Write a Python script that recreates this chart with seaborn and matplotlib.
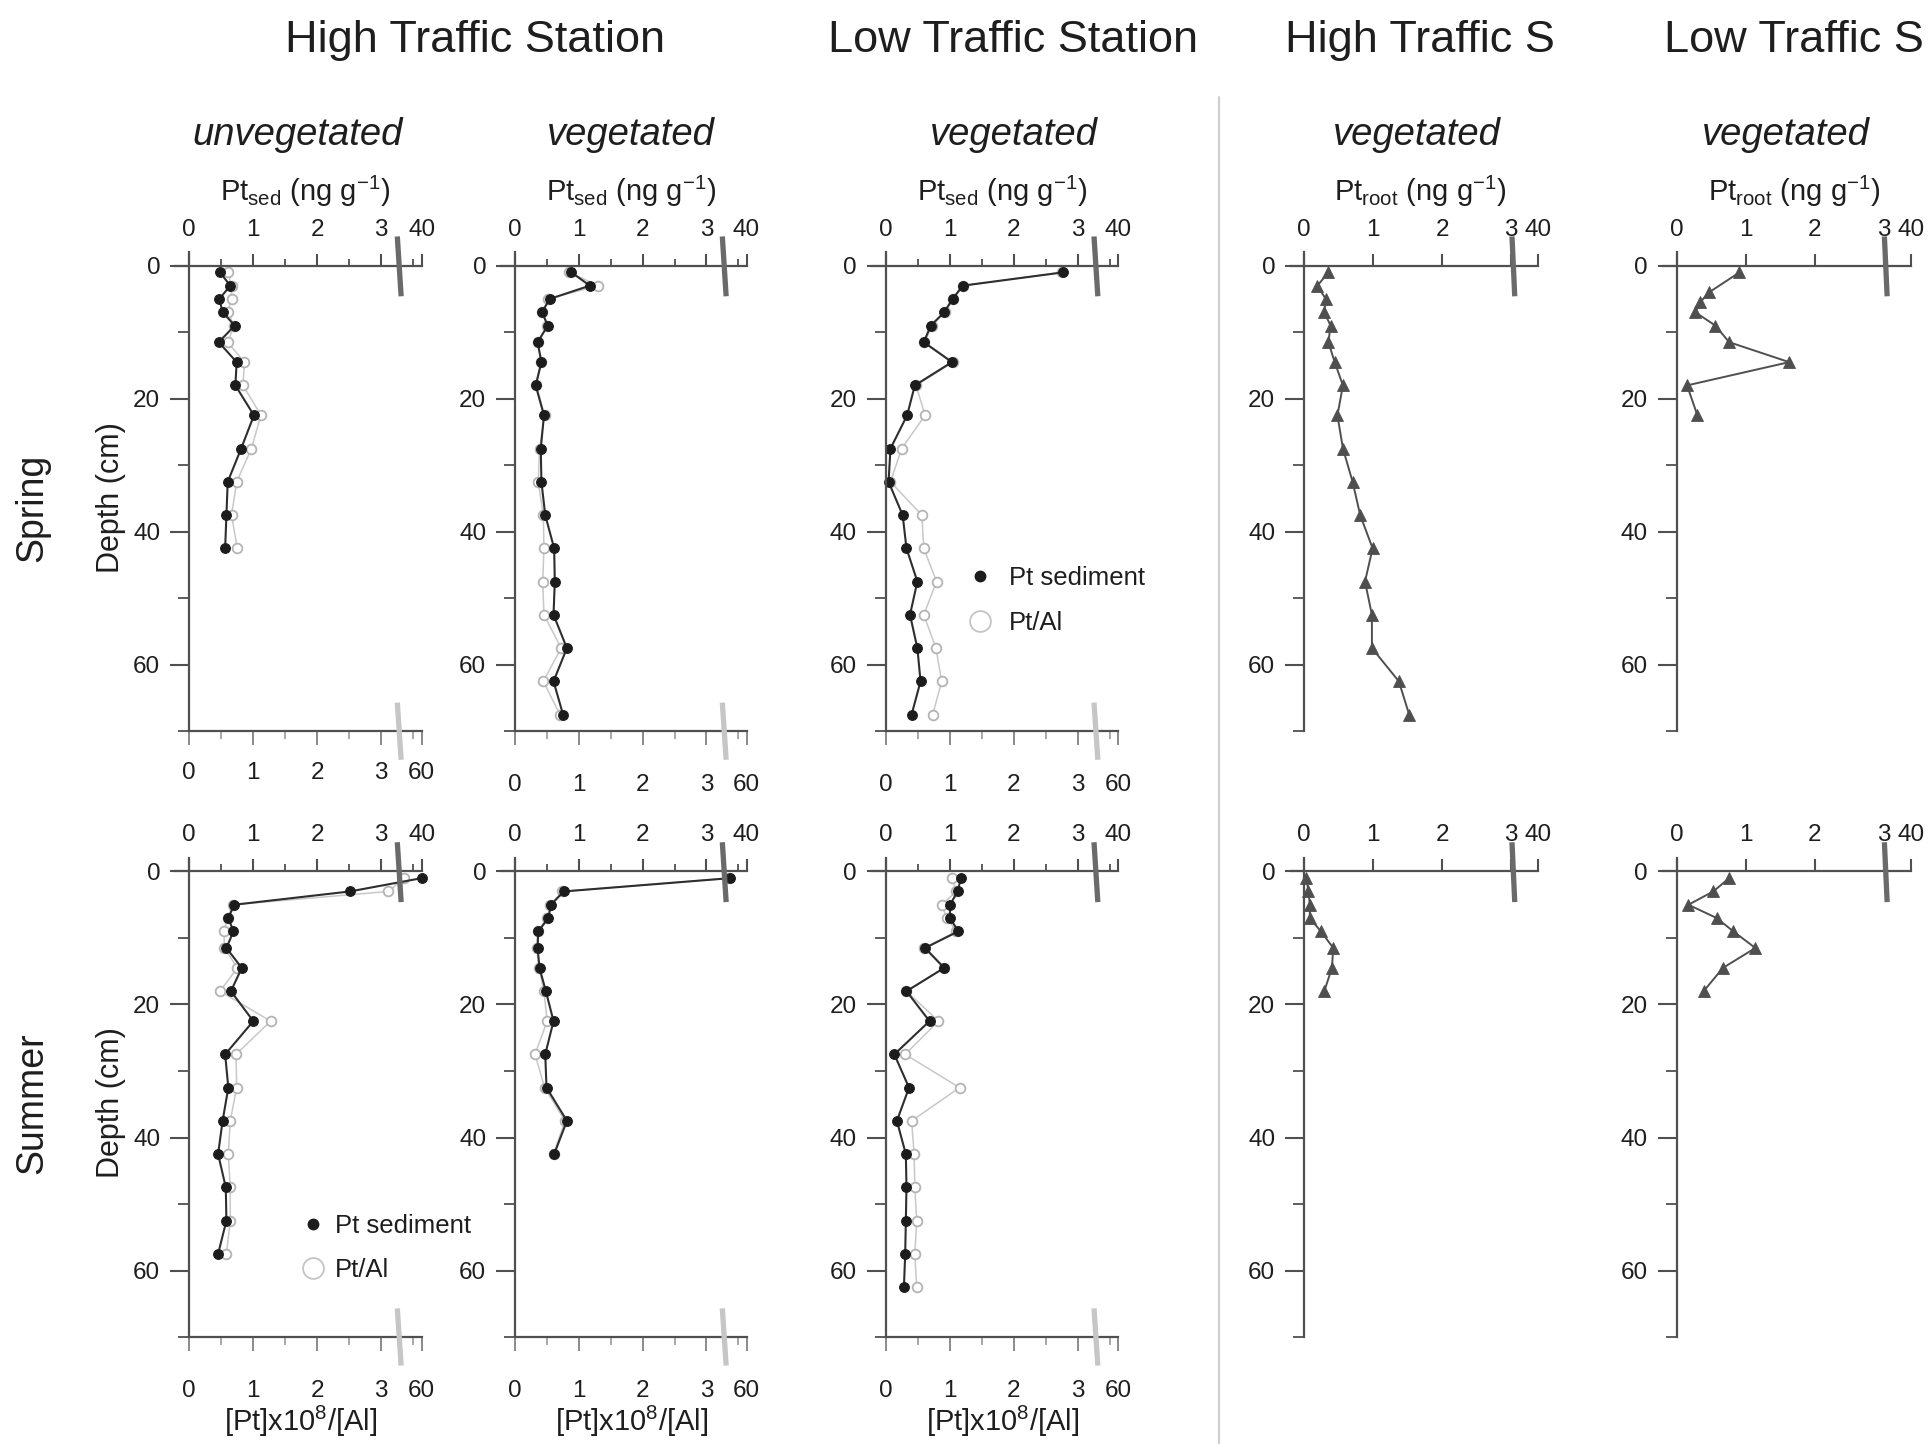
import matplotlib
matplotlib.use("Agg")
import matplotlib.pyplot as plt
import numpy as np
import seaborn as sns
from matplotlib.lines import Line2D

# ---------------- data ----------------
# sampling depths (cm) of the cores
depth_core = [1, 3, 5, 7, 9, 11.5, 14.5, 18, 22.5, 27.5, 32.5, 37.5, 42.5,
              47.5, 52.5, 57.5, 62.5, 67.5]

# Spring - High traffic, unvegetated sediment
spr_ht_unveg_depth = depth_core[:13]
spr_ht_unveg_pt = [0.48, 0.64, 0.47, 0.52, 0.71, 0.46, 0.74, 0.72, 1.01, 0.81, 0.60, 0.58, 0.56]
spr_ht_unveg_ptal = [0.60, 0.66, 0.66, 0.60, 0.70, 0.60, 0.86, 0.84, 1.12, 0.97, 0.74, 0.66, 0.75]

# Spring - High traffic, vegetated sediment
spr_ht_veg_depth = depth_core
spr_ht_veg_pt = [0.88, 1.17, 0.54, 0.42, 0.51, 0.35, 0.41, 0.32, 0.45, 0.40, 0.41, 0.47,
                 0.61, 0.62, 0.60, 0.81, 0.60, 0.75]
spr_ht_veg_ptal = [0.85, 1.30, 0.52, 0.42, 0.50, 0.36, 0.40, 0.33, 0.46, 0.38, 0.36, 0.44,
                   0.45, 0.43, 0.45, 0.72, 0.44, 0.70]

# Spring - Low traffic, vegetated sediment
spr_lt_veg_depth = depth_core
spr_lt_veg_pt = [2.77, 1.20, 1.04, 0.91, 0.70, 0.59, 1.03, 0.45, 0.33, 0.07, 0.04, 0.26,
                 0.32, 0.49, 0.375, 0.49, 0.54, 0.40]
spr_lt_veg_ptal = [2.75, 1.21, 1.05, 0.92, 0.72, 0.60, 1.05, 0.47, 0.61, 0.245, 0.07, 0.56,
                   0.59, 0.79, 0.59, 0.78, 0.87, 0.73]

# Spring - roots
spr_ht_root_depth = depth_core
spr_ht_root_pt = [0.35, 0.19, 0.31, 0.29, 0.38, 0.35, 0.44, 0.56, 0.48, 0.56, 0.70, 0.81,
                  0.99, 0.88, 0.98, 0.98, 1.37, 1.52]
spr_lt_root_depth = [1, 4, 5.5, 7, 9, 11.5, 14.5, 18, 22.5]
spr_lt_root_pt = [0.91, 0.47, 0.34, 0.27, 0.56, 0.76, 1.63, 0.15, 0.30]

# Summer - High traffic, unvegetated sediment
sum_ht_unveg_depth = depth_core[:16]
sum_ht_unveg_pt = [40.0, 2.51, 0.70, 0.61, 0.69, 0.58, 0.82, 0.65, 1.00, 0.56, 0.61, 0.52,
                   0.45, 0.57, 0.58, 0.45]
sum_ht_unveg_ptal = [40.0, 3.11, 0.68, 0.60, 0.54, 0.55, 0.75, 0.48, 1.27, 0.73, 0.74, 0.64,
                     0.61, 0.64, 0.64, 0.58]

# Summer - High traffic, vegetated sediment
sum_ht_veg_depth = depth_core[:13]
sum_ht_veg_pt = [30.5, 0.76, 0.56, 0.52, 0.36, 0.35, 0.38, 0.48, 0.60, 0.47, 0.49, 0.81, 0.61]
sum_ht_veg_ptal = [31.0, 0.74, 0.55, 0.50, 0.35, 0.34, 0.37, 0.45, 0.50, 0.31, 0.46, 0.78, 0.60]

# Summer - Low traffic, vegetated sediment
sum_lt_veg_depth = depth_core[:17]
sum_lt_veg_pt = [1.17, 1.12, 1.00, 1.00, 1.13, 0.61, 0.91, 0.32, 0.68, 0.13, 0.36, 0.17,
                 0.31, 0.32, 0.31, 0.30, 0.28]
sum_lt_veg_ptal = [1.03, 1.10, 0.87, 0.95, 1.10, 0.60, 0.90, 0.32, 0.82, 0.30, 1.15, 0.40,
                   0.44, 0.45, 0.48, 0.45, 0.48]

# Summer - roots
sum_ht_root_depth = depth_core[:8]
sum_ht_root_pt = [0.03, 0.06, 0.08, 0.08, 0.24, 0.42, 0.40, 0.29]
sum_lt_root_depth = depth_core[:8]
sum_lt_root_pt = [0.76, 0.53, 0.17, 0.58, 0.82, 1.14, 0.67, 0.39]

station_titles = ["High Traffic Station", "Low Traffic Station", "High Traffic S", "Low Traffic S"]
column_subtitles = ["unvegetated", "vegetated", "vegetated", "vegetated", "vegetated"]
season_labels = ["Spring", "Summer"]
sed_ticks_top = [0, 1, 2, 3, 40]
sed_ticks_bottom = [0, 1, 2, 3, 60]
depth_ticks = [0, 20, 40, 60]

# ---------------- style ----------------
sns.set_theme(style="white")
plt.rcParams["font.family"] = ["Liberation Sans", "DejaVu Sans"]
plt.rcParams["mathtext.fontset"] = "custom"
plt.rcParams["mathtext.rm"] = "Liberation Sans"
plt.rcParams["mathtext.it"] = "Liberation Sans:italic"
plt.rcParams["mathtext.bf"] = "Liberation Sans:bold"

TXT = "#1e1e1e"
AX = "#505050"
SED = "#1c1c1c"
RATIO = "#b4b4b4"
ROOT = "#4f4f4f"

W, H = 1933, 1444
fig = plt.figure(figsize=(W / 100, H / 100), dpi=100)
fig.patch.set_facecolor("white")


def broken_scale(lin_end, far_start, far_end, pos_start, pos_end):
    """Linear up to lin_end, squeezed gap, then a short linear segment."""
    slope = (pos_end - pos_start) / (far_end - far_start)
    xk = np.array([-100.0, lin_end, far_start, far_end, far_end + 100.0])
    yk = np.array([-100.0, lin_end, pos_start, pos_end, pos_end + 100.0 * slope])

    def fwd(v):
        return np.interp(np.asarray(v, dtype=float), xk, yk)

    def inv(v):
        return np.interp(np.asarray(v, dtype=float), yk, xk)
    return fwd, inv


sed_top_scale = broken_scale(3.35, 30, 40, 3.36, 3.63)
sed_bot_scale = broken_scale(3.35, 50, 60, 3.36, 3.63)
root_scale = broken_scale(3.1, 30, 40, 3.11, 3.39)

# column geometry: (y-axis pixel x, pixels per unit, kind)
columns = [(189.3, 64.0, "sed"), (515.3, 63.7, "sed"), (886.0, 64.0, "sed"),
           (1304.3, 69.0, "root"), (1676.7, 69.0, "root")]
# row geometry: pixel y of depth 0
rows = [265.7, 871.5]
PX_CM = 6.65
YTOP = -2.1
YBOT = 70

panels = {
    (0, 0): dict(depth=spr_ht_unveg_depth, pt=spr_ht_unveg_pt, ptal=spr_ht_unveg_ptal),
    (0, 1): dict(depth=spr_ht_veg_depth, pt=spr_ht_veg_pt, ptal=spr_ht_veg_ptal),
    (0, 2): dict(depth=spr_lt_veg_depth, pt=spr_lt_veg_pt, ptal=spr_lt_veg_ptal),
    (0, 3): dict(depth=spr_ht_root_depth, pt=spr_ht_root_pt),
    (0, 4): dict(depth=spr_lt_root_depth, pt=spr_lt_root_pt),
    (1, 0): dict(depth=sum_ht_unveg_depth, pt=sum_ht_unveg_pt, ptal=sum_ht_unveg_ptal),
    (1, 1): dict(depth=sum_ht_veg_depth, pt=sum_ht_veg_pt, ptal=sum_ht_veg_ptal),
    (1, 2): dict(depth=sum_lt_veg_depth, pt=sum_lt_veg_pt, ptal=sum_lt_veg_ptal),
    (1, 3): dict(depth=sum_ht_root_depth, pt=sum_ht_root_pt),
    (1, 4): dict(depth=sum_lt_root_depth, pt=sum_lt_root_pt),
}

TICK_FS = 17.5

for (r, c), p in panels.items():
    yaxis_x, ppu, kind = columns[c]
    x0 = rows[r]
    if kind == "sed":
        dleft, dright, xmax = -0.22, 3.63, 40
        fscale = sed_top_scale
    else:
        dleft, dright, xmax = -0.20, 3.39, 40
        fscale = root_scale
    left_px = yaxis_x + dleft * ppu
    width_px = (dright - dleft) * ppu
    top_px = x0 + YTOP * PX_CM
    height_px = (YBOT - YTOP) * PX_CM
    ax = fig.add_axes([left_px / W, 1 - (top_px + height_px) / H, width_px / W, height_px / H])

    ax2 = None
    if kind == "sed":
        ax2 = ax.twiny()
        ax2.set_xscale("function", functions=sed_bot_scale)
        ax.set_zorder(ax2.get_zorder() + 1)
        ax.patch.set_visible(False)
    ax.set_xscale("function", functions=fscale)

    # data
    if kind == "sed":
        sns.lineplot(x=p["ptal"], y=p["depth"], ax=ax2, sort=False, estimator=None,
                     color="#c8c8c8", linewidth=1.1, marker="o", markersize=7,
                     markerfacecolor="white", markeredgecolor=RATIO, markeredgewidth=1.3,
                     clip_on=False, legend=False)
        sns.lineplot(x=p["pt"], y=p["depth"], ax=ax, sort=False, estimator=None,
                     color="#2e2e2e", linewidth=1.5, marker="o", markersize=7,
                     markerfacecolor=SED, markeredgecolor=SED, markeredgewidth=0.8,
                     clip_on=False, legend=False)
    else:
        sns.lineplot(x=p["pt"], y=p["depth"], ax=ax, sort=False, estimator=None,
                     color=ROOT, linewidth=1.4, marker="^", markersize=9,
                     markerfacecolor=ROOT, markeredgecolor=ROOT, markeredgewidth=0.6,
                     clip_on=False, legend=False)

    # axis break marks
    if kind == "sed":
        ax.plot([3.25, 3.31], [-4.4, 4.6], color="#6a6a6a", lw=3.8,
                solid_capstyle="butt", clip_on=False, zorder=5)
        ax.plot([3.25, 3.31], [YBOT - 4.3, YBOT + 4.3], color="#c6c6c6", lw=3.8,
                solid_capstyle="butt", clip_on=False, zorder=5)
    else:
        ax.plot([3.01, 3.05], [-4.4, 4.6], color="#6a6a6a", lw=3.8,
                solid_capstyle="butt", clip_on=False, zorder=5)

    # limits
    ax.set_ylim(YBOT, YTOP)
    ax.set_xlim(dleft, xmax)
    if ax2 is not None:
        ax2.set_xlim(dleft, 60)

    # spines
    for s in ["bottom", "right"]:
        ax.spines[s].set_visible(False)
    ax.spines["top"].set_position(("data", 0))
    ax.spines["top"].set_bounds(dleft, xmax)
    ax.spines["left"].set_position(("data", 0))
    ax.spines["left"].set_bounds(YTOP, YBOT)
    for s in ["top", "left"]:
        ax.spines[s].set_color(AX)
        ax.spines[s].set_linewidth(1.6)

    # ticks
    ax.xaxis.tick_top()
    ax.yaxis.tick_left()
    ax.set_xticks(sed_ticks_top, [str(t) for t in sed_ticks_top])
    if kind == "sed":
        ax.set_xticks([0.5, 1.5, 2.5, 35], minor=True)
    else:
        ax.set_xticks([], minor=True)
    ax.set_yticks(depth_ticks, [str(t) for t in depth_ticks])
    ax.set_yticks([10, 30, 50, 70], minor=True)
    ax.tick_params(axis="x", which="both", top=True, bottom=False)
    ax.tick_params(axis="y", which="both", left=True, right=False)
    ax.tick_params(axis="x", which="major", direction="out", length=9, width=1.5,
                   color=AX, labelcolor=TXT, labelsize=TICK_FS, pad=9)
    ax.tick_params(axis="x", which="minor", direction="out", length=5, width=1.3, color=AX)
    ax.tick_params(axis="y", which="major", direction="out", length=14, width=1.5,
                   color=AX, labelcolor=TXT, labelsize=TICK_FS, pad=7)
    ax.tick_params(axis="y", which="minor", direction="out", length=8, width=1.3, color=AX)
    ax.set_xlabel("")
    ax.set_ylabel("")

    if ax2 is not None:
        for s in ["top", "left", "right"]:
            ax2.spines[s].set_visible(False)
        ax2.spines["bottom"].set_visible(True)
        ax2.spines["bottom"].set_bounds(0, 60)
        ax2.spines["bottom"].set_color(AX)
        ax2.spines["bottom"].set_linewidth(1.6)
        ax2.xaxis.set_ticks_position("bottom")
        ax2.set_xticks(sed_ticks_bottom, [str(t) for t in sed_ticks_bottom])
        ax2.set_xticks([0.5, 1.5, 2.5, 55], minor=True)
        ax2.tick_params(axis="x", which="both", bottom=True, top=False)
        bpad = 12 if (r, c) == (0, 0) else 21
        ax2.tick_params(axis="x", which="major", direction="out", length=10, width=1.4,
                        color="#8a8a8a", labelcolor=TXT, labelsize=TICK_FS, pad=bpad)
        ax2.tick_params(axis="x", which="minor", direction="out", length=6, width=1.2,
                        color="#9a9a9a")
        ax2.set_xlabel("")

    # legends
    if (r, c) in [(0, 2), (1, 0)]:
        handles = [Line2D([], [], ls="", marker="o", ms=7.5, mfc=SED, mec=SED),
                   Line2D([], [], ls="", marker="o", ms=15, mfc="white", mec="#c4c4c4",
                          mew=1.3)]
        if (r, c) == (0, 2):
            anchor, tpad = ((967) / W, 1 - 600.5 / H), 0.63
        else:
            anchor, tpad = ((300) / W, 1 - 1248 / H), 0.36
        ax.legend(handles, ["Pt sediment", "Pt/Al"], loc="center left",
                  bbox_to_anchor=anchor, bbox_transform=fig.transFigure,
                  frameon=False, fontsize=18.5, handlelength=1.0,
                  handletextpad=tpad, labelspacing=0.8, borderpad=0,
                  borderaxespad=0, labelcolor=TXT)

# ---------------- text ----------------
def ftext(x, y, s, **kw):
    kw.setdefault("color", TXT)
    fig.text(x / W, 1 - y / H, s, **kw)


# station titles
ftext(474.6, 52, station_titles[0], fontsize=32.5, ha="center", va="baseline")
ftext(1013, 52, station_titles[1], fontsize=32.5, ha="center", va="baseline")
ftext(1420, 52, station_titles[2], fontsize=32.5, ha="center", va="baseline")
ftext(1664, 52, station_titles[3], fontsize=32.5, ha="left", va="baseline")

# vegetation subtitles
for cx, s in zip([298, 631, 1014, 1417, 1786], column_subtitles):
    ftext(cx, 145, s, fontsize=27.5, style="italic", ha="center", va="baseline")

# top axis labels (spring row)
sed_lab = "Pt$_{\\mathregular{sed}}$ (ng g$^{\\mathregular{-1}}$)"
root_lab = "Pt$_{\\mathregular{root}}$ (ng g$^{\\mathregular{-1}}$)"
for cx in [305, 631, 1002]:
    ftext(cx, 201, sed_lab, fontsize=21, ha="center", va="baseline")
for cx in [1420, 1794]:
    ftext(cx, 201, root_lab, fontsize=21, ha="center", va="baseline")

# bottom axis labels (summer row)
ratio_lab = "[Pt]x10$^{\\mathregular{8}}$/[Al]"
for cx in [301, 632, 1003]:
    ftext(cx, 1431, ratio_lab, fontsize=21, ha="center", va="baseline")

# depth labels and season labels
ftext(111, 498, "Depth (cm)", fontsize=22, rotation=90, ha="center", va="center")
ftext(111, 1103, "Depth (cm)", fontsize=22, rotation=90, ha="center", va="center")
ftext(32, 508, season_labels[0], fontsize=27, rotation=90, ha="center", va="center")
ftext(32, 1103, season_labels[1], fontsize=27, rotation=90, ha="center", va="center")

# separator between sediment and root panels
fig.add_artist(Line2D([1219 / W, 1219 / W], [1 - 97 / H, 0], color="#cfcfcf", lw=1.6))

fig.savefig("out.png", dpi=100, facecolor="white")
